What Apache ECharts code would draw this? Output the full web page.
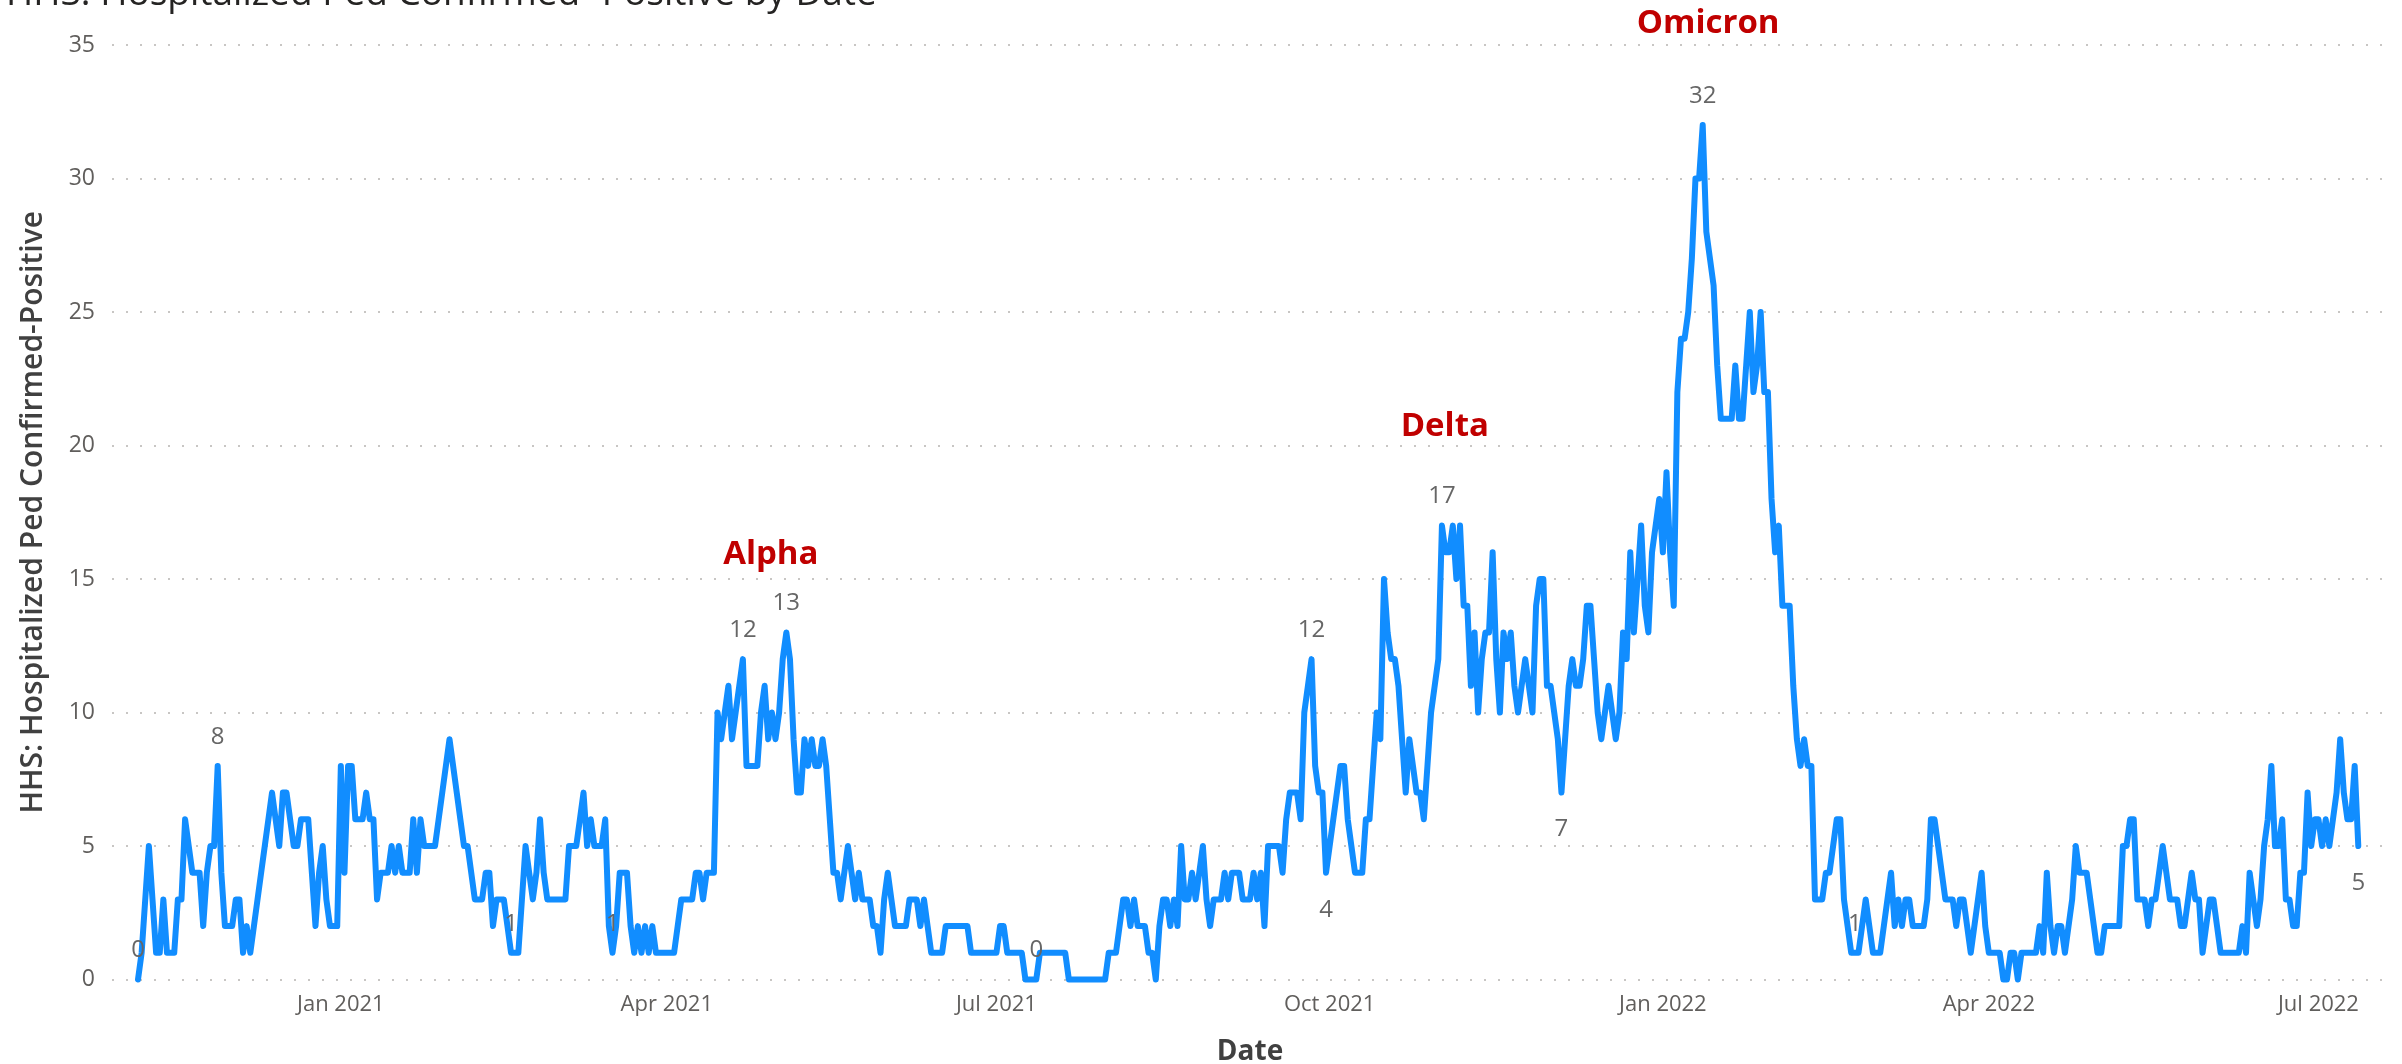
<!DOCTYPE html>
<html>
<head>
<meta charset="utf-8">
<script src="https://cdn.jsdelivr.net/npm/echarts@6/dist/echarts.min.js"></script>
<style>
html,body{margin:0;padding:0;background:#ffffff;}
#chart{width:2402px;height:1064px;}
</style>
</head>
<body>
<div id="chart"></div>
<script>
// ---- data: daily values, first value on startDate ----
const startDate = '2020-11-06';
const vNovDec2020 = [0,1,3,5,3,1,1,3,1,1, 1,3,3,6,5,4,4,4,2, 4,5,5,8,4,2,2,2,3,3, 1,2,1,2,3,4,5,6,7,6, 5,7,7,6,5,5,6,6,6, 4,2,4,5,3,2,2,2];
const v2021Q1 = [8,4, 8,8,6,6,6,7,6,6,3, 4,4,4,5,4,5,4,4,4,6, 4,6,5,5,5,5,6,7,8,9, 8,7,6,5,5,4,3,3,3, 4,4,2,3,3,3,2,1,1,1, 3,5,4,3,4,6,4,3,3, 3,3,3,3,5,5,5,6,7,5, 6,5,5,5,6,2,1,2,4,4, 4,2,1,2,1,2,1,2,1, 1,1];
const v2021Q2 = [1,1,1,2,3,3,3,3, 4,4,3,4,4,4,10,9,10, 11,9,10,11,12,8,8,8,8,10, 11,9,10,9,10,12,13,12,9,7, 7,9,8,9,8,8,9,8,6, 4,4,3,4,5,4,3,4,3,3, 3,2,2,1,3,4,3,2,2,2, 2,3,3,3,2,3,2,1,1, 1,1,2,2,2,2,2,2,2,1, 1,1,1,1,1,1];
const v2021Q3 = [1,2,2, 1,1,1,1,1,0,0,0,0,1, 1,1,1,1,1,1,1,0,0,0, 0,0,0,0,0,0,0,0,1, 1,1,2,3,3,2,3,2,2,2, 1,1,0,2,3,3,2,3,2, 5,3,3,4,3,4,5,3,2,3, 3,3,4,3,4,4,4,3,3,3, 4,3,4,2,5,5,5,5,4, 6,7,7,7,6,10,11,12,8,7, 7,4];
const v2021Q4 = [5,6,7,8,8,6,5, 4,4,4,6,6,8,10,9,15,13, 12,12,11,9,7,9,8,7,7,6, 8,10,11,12,17,16,16,17,15, 17,14,14,11,13,10,12,13,13,16, 12,10,13,12,13,11,10,11,12,11, 10,14,15,15,11,11,10,9,7, 9,11,12,11,11,12,14,14,12,10, 9,10,11,10,9,10,13,12,16, 13,15,17,14,13,16,17,18];
const v2022Q1 = [16,19, 16,14,22,24,24,25,27,30,30,32, 28,27,26,23,21,21,21,21,23, 21,21,23,25,22,23,25,22,22,18, 16,17,14,14,14,11,9,8,9, 8,8,3,3,3,4,4,5,6,6, 3,2,1,1,1,2,3,2,1,1, 1,2,3,4,2,3,2,3,3, 2,2,2,2,3,6,6,5,4,3, 3,3,2,3,3,2,1,2,3, 4,2];
const v2022Q2 = [1,1,1,1,0,0,1,1, 0,1,1,1,1,1,2,1,4,2, 1,2,2,1,2,3,5,4,4, 4,3,2,1,1,2,2,2,2,2, 5,5,6,6,3,3,3,2,3,3, 4,5,4,3,3,3,2,2,3, 4,3,3,1,2,3,3,2,1,1, 1,1,1,1,2,1,4,3,2, 3,5,6,8,5,5,6,3,3,2, 2,4,4,7,5,6];
const v2022Jul = [6,5,6,5, 6,7,9,7,6,6,8,5];

// x-axis tick labels (dates) and month names
const xTickDates = ['2021-01-01','2021-04-01','2021-07-01','2021-10-01','2022-01-01','2022-04-01','2022-07-01'];
const monthNames = ['Jan','Feb','Mar','Apr','May','Jun','Jul','Aug','Sep','Oct','Nov','Dec'];

// dates whose value is labelled (above / below the line)
const labelDatesAbove = ['2020-11-06','2020-11-28','2021-02-17','2021-03-17','2021-04-22','2021-05-04','2021-07-12','2021-09-26','2021-11-01','2022-01-12','2022-02-23'];
const labelDatesBelow = ['2021-09-30','2021-12-04','2022-07-12'];

// variant annotations (anchored in data coordinates)
const variantNames = ['Alpha','Delta','Omicron'];
const variantDates = ['2021-04-29T17:00:00Z','2021-11-01T19:00:00Z','2022-01-13T12:00:00Z'];
const variantLevels = [15.93, 20.7, 35.8];

const titleText = 'HHS: Hospitalized Ped Confirmed- Positive by Date';
const yTitle = 'HHS: Hospitalized Ped Confirmed-Positive';
const xTitle = 'Date';

// ---- build ----
const DAY = 86400000;
const toTs = s => Date.parse(s.length <= 10 ? s + 'T00:00:00Z' : s);
const t0 = toTs(startDate);
const values = [].concat(vNovDec2020, v2021Q1, v2021Q2, v2021Q3, v2021Q4, v2022Q1, v2022Q2, v2022Jul);
const above = new Set(labelDatesAbove.map(toTs));
const below = new Set(labelDatesBelow.map(toTs));
const seriesData = values.map((v, i) => {
  const t = t0 + i * DAY;
  if (above.has(t)) return {value: [t, v], label: {show: true, position: 'top', distance: 17}};
  if (below.has(t)) return {value: [t, v], label: {show: true, position: 'bottom', distance: 25}};
  return [t, v];
});

const FONT = "'Open Sans', 'Noto Sans', sans-serif";
const chart = echarts.init(document.getElementById('chart'), null, {renderer: 'canvas'});
chart.setOption({
  animation: false,
  backgroundColor: '#ffffff',
  title: {
    text: titleText,
    left: 1,
    top: -29,
    textStyle: {fontFamily: FONT, fontSize: 37, fontWeight: 'normal', color: '#252423'}
  },
  grid: {left: 112, right: 14, top: 45, bottom: 84.5, outerBoundsMode: 'none', containLabel: false},
  xAxis: {
    type: 'value',
    min: t0 - 7.18 * DAY,
    max: t0 + 621.2 * DAY,
    name: xTitle,
    nameLocation: 'middle',
    nameGap: 59,
    nameTextStyle: {fontFamily: FONT, fontSize: 28, fontWeight: 'bold', color: '#404040'},
    axisLine: {show: false},
    axisTick: {show: false},
    splitLine: {show: false},
    axisLabel: {
      customValues: xTickDates.map(toTs),
      formatter: function (v) {
        const d = new Date(v);
        return monthNames[d.getUTCMonth()] + ' ' + d.getUTCFullYear();
      },
      fontFamily: FONT, fontSize: 22, color: '#605E5C', margin: 14
    }
  },
  yAxis: {
    type: 'value',
    min: 0, max: 35, interval: 5,
    name: yTitle,
    nameLocation: 'middle',
    nameGap: 64,
    nameRotate: 90,
    nameTextStyle: {fontFamily: FONT, fontSize: 30, fontWeight: 600, color: '#404040'},
    axisLine: {show: false},
    axisTick: {show: false},
    axisLabel: {fontFamily: FONT, fontSize: 23, color: '#605E5C', margin: 17},
    splitLine: {show: true, lineStyle: {color: '#C8C6C4', width: 2, type: [2, 12]}}
  },
  series: [{
    type: 'line',
    data: seriesData,
    showSymbol: true,
    symbol: 'circle',
    symbolSize: 0,
    clip: false,
    lineStyle: {color: '#118DFF', width: 6, join: 'round', cap: 'round'},
    itemStyle: {color: '#118DFF'},
    label: {show: false, fontFamily: FONT, fontSize: 24, color: '#666666'},
    emphasis: {disabled: true}
  }]
});

// variant annotations placed at their data coordinates
chart.setOption({
  graphic: variantNames.map((n, i) => {
    const p = chart.convertToPixel({gridIndex: 0}, [toTs(variantDates[i]), variantLevels[i]]);
    return {
      type: 'text', x: p[0], y: p[1], silent: true,
      style: {text: n, fill: '#C00000', font: "bold 33px 'Open Sans', 'Noto Sans', sans-serif", align: 'center', verticalAlign: 'middle'}
    };
  })
});
</script>
</body>
</html>
